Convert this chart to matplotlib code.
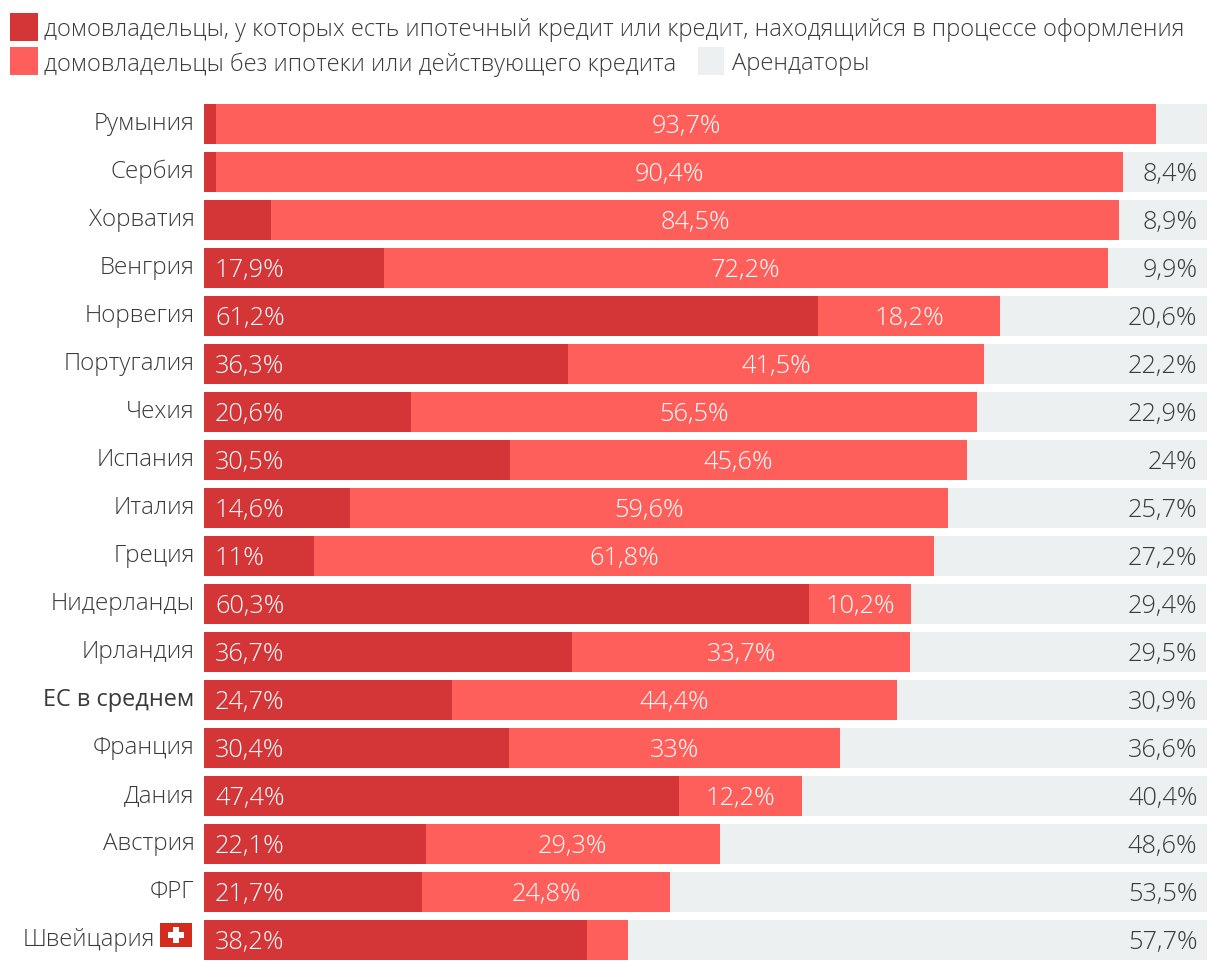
import matplotlib
matplotlib.use('Agg')
import matplotlib.pyplot as plt
from matplotlib.patches import Rectangle
import numpy as np

plt.rcParams['font.family'] = ['Open Sans', 'DejaVu Sans']

countries = ['Румыния', 'Сербия', 'Хорватия', 'Венгрия', 'Норвегия', 'Португалия',
             'Чехия', 'Испания', 'Италия', 'Греция', 'Нидерланды', 'Ирландия',
             'ЕС в среднем', 'Франция', 'Дания', 'Австрия', 'ФРГ', 'Швейцария']
with_credit = [1.2, 1.2, 6.7, 17.9, 61.2, 36.3, 20.6, 30.5, 14.6, 11, 60.3, 36.7,
               24.7, 30.4, 47.4, 22.1, 21.7, 38.2]
no_credit = [93.7, 90.4, 84.5, 72.2, 18.2, 41.5, 56.5, 45.6, 59.6, 61.8, 10.2, 33.7,
             44.4, 33, 12.2, 29.3, 24.8, 4.1]
renters = [5.1, 8.4, 8.9, 9.9, 20.6, 22.2, 22.9, 24, 25.7, 27.2, 29.4, 29.5,
           30.9, 36.6, 40.4, 48.6, 53.5, 57.7]
legend_labels = ['домовладельцы, у которых есть ипотечный кредит или кредит, находящийся в процессе оформления',
                 'домовладельцы без ипотеки или действующего кредита',
                 'Арендаторы']

DARK = '#d43638'
LIGHT = '#ff5f5a'
GREY = '#edf0f1'
TEXT = '#3a3a3a'
W, H = 1220, 970
textsize = 17.35
numsize = 18.3
legendsize = 17.14


def fmt(v):
    return '{:g}%'.format(v).replace('.', ',')


def label(s, xy, dx, dy, ha, size, color, weight='light'):
    ax.annotate(s, xy, xytext=(dx, dy), textcoords='offset pixels', ha=ha, va='center_baseline',
                fontsize=size, color=color, weight=weight, annotation_clip=False)


fig = plt.figure(figsize=(W / 100, H / 100), dpi=100, facecolor='white')
ax = fig.add_axes([204 / W, (H - 964.6) / H, 1003 / W, 864 / H])

y = np.arange(len(countries))
first = np.array(with_credit)
second = np.array(no_credit)
third = np.array(renters)
ax.barh(y, first, height=40 / 48, color=DARK)
ax.barh(y, second, left=first, height=40 / 48, color=LIGHT)
ax.barh(y, third, left=first + second, height=40 / 48, color=GREY)
ax.set_xlim(0, 100)
ax.set_ylim(len(countries) - 0.5, -0.5)
ax.axis('off')

for i, name in enumerate(countries):
    # category labels, the swiss one sits left of the flag
    xpix = 155 if name == 'Швейцария' else 194.5
    weight = 'normal' if name == 'ЕС в среднем' else 'light'
    size = 16.9 if name == 'ЕС в среднем' else textsize
    if name == 'Швейцария':
        size = 17.15
    label(name, (0, i), xpix - 204, 4, 'right', size, TEXT, weight)
    # small segments have no label
    if first[i] >= 8:
        label(fmt(first[i]), (0, i), 11, 1, 'left', numsize, 'white')
    if second[i] >= 8:
        label(fmt(second[i]), (first[i] + second[i] / 2, i), 0, 1, 'center', numsize, 'white')
    if third[i] >= 8:
        label(fmt(third[i]), (100, i), -9.5, 1, 'right', numsize, TEXT)


def box(x0, y0, w, h, color):
    fig.add_artist(Rectangle((x0 / W, 1 - (y0 + h) / H), w / W, h / H, transform=fig.transFigure,
                             facecolor=color, edgecolor='none'))


#legend
box(10, 14, 28, 28, DARK)
box(10, 48, 28, 28, LIGHT)
box(698, 48, 26, 28, GREY)
fig.text(44 / W, 1 - 27.5 / H, legend_labels[0], fontsize=legendsize, color=TEXT, weight='light', va='center_baseline')
fig.text(44 / W, 1 - 61.5 / H, legend_labels[1], fontsize=legendsize, color=TEXT, weight='light', va='center_baseline')
fig.text(732 / W, 1 - 61.5 / H, legend_labels[2], fontsize=legendsize, color=TEXT, weight='light', va='center_baseline')

#swiss flag
box(160, 924, 32, 24, '#d52b1e')
box(173, 928, 6, 16, 'white')
box(168, 933, 16, 6, 'white')

fig.savefig('out.png', dpi=100)
